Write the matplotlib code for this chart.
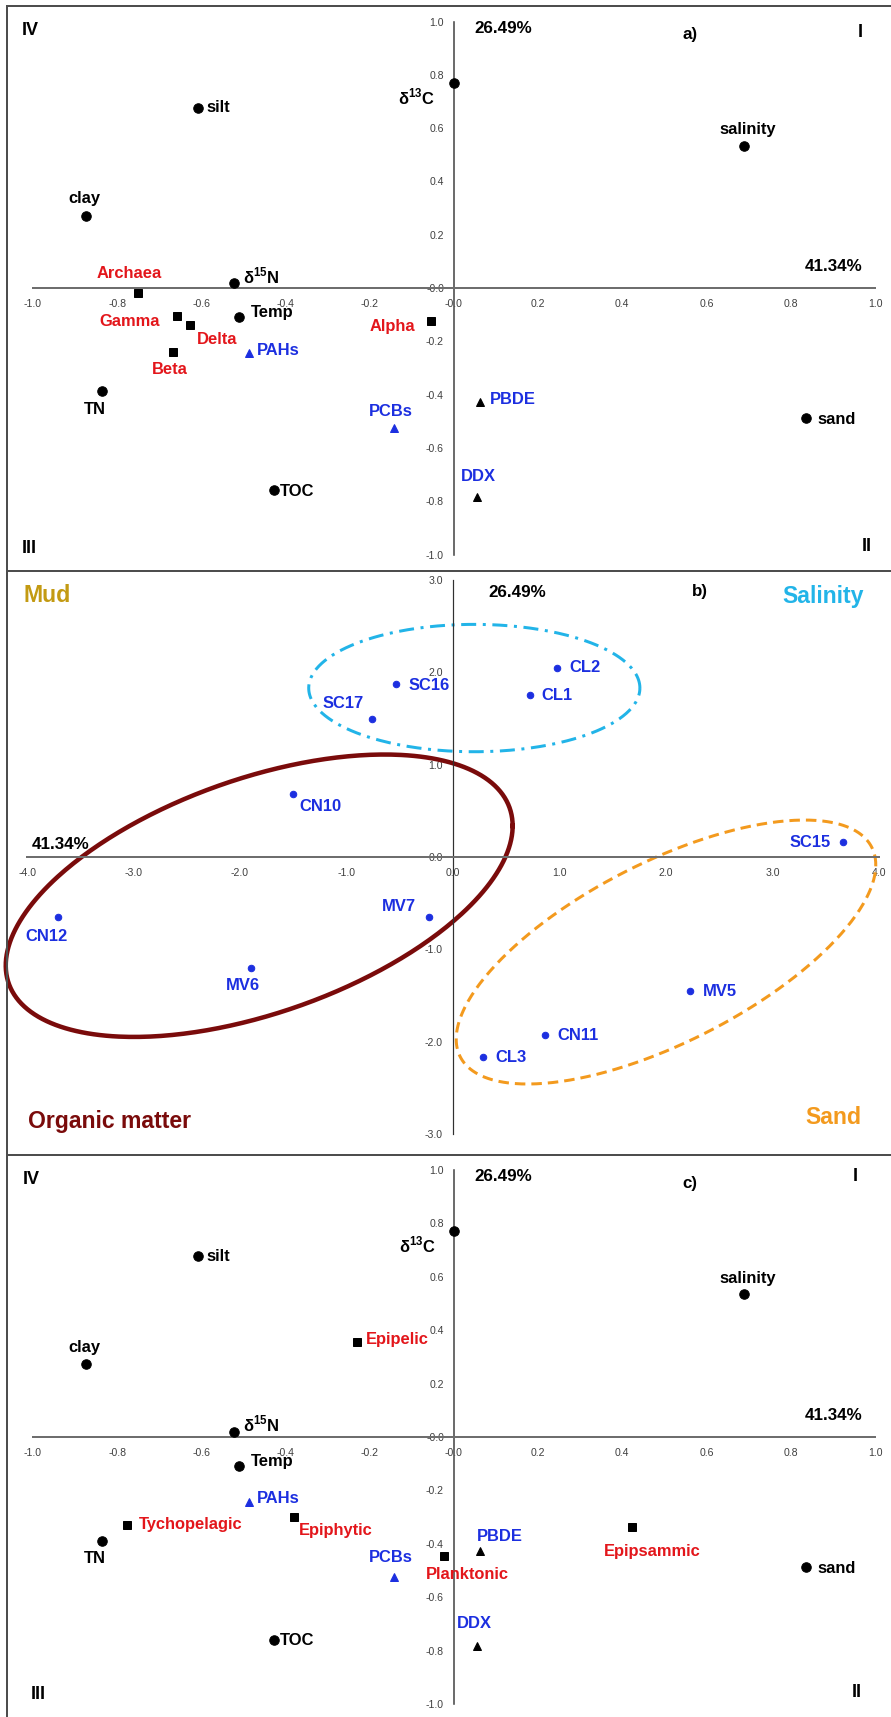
import numpy as np
import matplotlib
matplotlib.use("Agg")
import matplotlib.pyplot as plt
from matplotlib.lines import Line2D
from matplotlib.ticker import FormatStrFormatter

plt.rcParams["font.family"] = ["Liberation Sans", "DejaVu Sans"]
plt.rcParams["axes.unicode_minus"] = False

# ---- data: loadings (panels a, c) ----
env_labels = [r"δ$^{\mathregular{13}}$C", "silt", "salinity", "clay", r"δ$^{\mathregular{15}}$N",
              "Temp", "TN", "TOC", "sand"]
env_x = [0.0, -0.608, 0.688, -0.874, -0.523, -0.511, -0.835, -0.428, 0.835]
env_y = [0.77, 0.677, 0.534, 0.272, 0.02, -0.107, -0.388, -0.759, -0.487]

contam_labels = ["PAHs", "PCBs", "PBDE", "DDX"]
contam_x = [-0.487, -0.142, 0.061, 0.054]
contam_y = [-0.244, -0.525, -0.429, -0.784]

bact_labels = ["Archaea", "Gamma", "Delta", "Beta", "Alpha"]
bact_x = [-0.751, -0.657, -0.626, -0.666, -0.054]
bact_y = [-0.018, -0.104, -0.14, -0.239, -0.124]

diatom_labels = ["Epipelic", "Tychopelagic", "Epiphytic", "Planktonic", "Epipsammic"]
diatom_x = [-0.229, -0.777, -0.379, -0.023, 0.422]
diatom_y = [0.356, -0.33, -0.301, -0.445, -0.339]

# ---- data: site scores (panel b) ----
site_labels = ["CL2", "SC16", "CL1", "SC17", "CN10", "SC15",
               "CN12", "MV7", "MV6", "MV5", "CN11", "CL3"]
site_x = [0.98, -0.535, 0.72, -0.765, -1.5, 3.66, -3.706, -0.23, -1.9, 2.23, 0.866, 0.283]
site_y = [2.05, 1.87, 1.76, 1.5, 0.685, 0.16, -0.65, -0.65, -1.2, -1.45, -1.925, -2.165]

pc1_label = "41.34%"
pc2_label = "26.49%"

RED = "#e3161b"
BLUE = "#1c2fe0"
GREY = "#3f3f3f"

# label offsets (dx, dy in px, ha); figure is drawn at 72 dpi so pt == px
env_off_a = [(-37, -14, "center"), (9, 0, "left"), (4, 16, "center"), (-2, 17, "center"),
             (9, 7, "left"), (12, 4, "left"), (-7, -18, "center"), (6, -1, "left"), (12, -2, "left")]
env_off_c = env_off_a.copy()
env_off_c[0] = (-36, -14, "center")
contam_off_a = [(8, 3, "left"), (-3, 16, "center"), (10, 3, "left"), (2, 20, "center")]
contam_off_c = [(8, 4, "left"), (-3, 20, "center"), (20, 15, "center"), (-2, 23, "center")]
bact_off = [(-8, 19, "center"), (-17, -6, "right"), (27, -14, "center"), (-4, -18, "center"),
            (-16, -5, "right")]
diatom_off = [(8, 2, "left"), (12, 1, "left"), (5, -13, "left"), (23, -19, "center"),
              (21, -24, "center")]
site_off = [(12, 0, "left"), (12, -1, "left"), (12, -1, "left"), (-28, 15, "center"),
            (27, -13, "center"), (-12, 0, "right"), (-12, -20, "center"), (-30, 10, "center"),
            (-8, -18, "center"), (12, -1, "left"), (12, -1, "left"), (12, -1, "left")]

# quadrant label anchors (x, y, ha) for IV, I, III, II
quad_a = [(-1.027, 0.968, "left"), (0.97, 0.96, "right"), (-1.027, -0.979, "left"), (0.993, -0.97, "right")]
quad_c = [(-1.025, 0.966, "left"), (0.96, 0.975, "right"), (-1.006, -0.966, "left"), (0.968, -0.959, "right")]

W, H = 891, 1717
fig = plt.figure(figsize=(W / 72, H / 72), dpi=72)


def panel_axes(top, bottom, xlim, ylim):
    ax = fig.add_axes([0, 1 - bottom / H, 1, (bottom - top) / H])
    ax.set_xlim(xlim)
    ax.set_ylim(ylim)
    ax.patch.set_alpha(0)
    return ax


def style_axes(ax, ticks_x, ticks_y):
    for s in ("top", "right"):
        ax.spines[s].set_visible(False)
    ax.spines["left"].set_position(("data", 0))
    ax.spines["bottom"].set_position(("data", 0))
    ax.spines["left"].set_bounds(ticks_y[0], ticks_y[-1])
    ax.spines["bottom"].set_bounds(ticks_x[0], ticks_x[-1])
    ax.spines["bottom"].set_color("#6e6e6e")
    ax.spines["bottom"].set_linewidth(2)
    ax.spines["left"].set_color("#4a4a4a")
    ax.spines["left"].set_linewidth(1.6)
    ax.set_xticks(ticks_x)
    ax.set_yticks(ticks_y)
    ax.xaxis.set_major_formatter(FormatStrFormatter("%.1f"))
    ax.yaxis.set_major_formatter(FormatStrFormatter("%.1f"))
    ax.tick_params(length=0, labelsize=10.5, labelcolor=GREY)
    ax.tick_params(axis="x", pad=11)
    ax.tick_params(axis="y", pad=10)


def label_points(ax, labels, xs, ys, offsets, color, size=16.5):
    for t, x, y, (dx, dy, ha) in zip(labels, xs, ys, offsets):
        ax.annotate(t, (x, y), xytext=(dx, dy), textcoords="offset points",
                    ha=ha, va="center", color=color, fontsize=size, fontweight="bold")


def bold(ax, x, y, s, color="black", size=17, ha="center"):
    ax.text(x, y, s, ha=ha, va="center", color=color, fontsize=size, fontweight="bold")


def loadings_panel(ax, tag, env_off, contam_off, quad):
    style_axes(ax, np.round(np.arange(-1, 1.01, 0.2), 1), np.round(np.arange(-1, 1.01, 0.2), 1))
    ax.plot(env_x, env_y, "o", color="black", ms=9.5, zorder=4)
    label_points(ax, env_labels, env_x, env_y, env_off, "black")
    tri_col = [BLUE, BLUE, "black", "black"]
    for x, y, c in zip(contam_x, contam_y, tri_col):
        ax.plot(x, y, "^", color=c, ms=8.5, zorder=4)
    label_points(ax, contam_labels, contam_x, contam_y, contam_off, BLUE)
    for (qx, qy, ha), s in zip(quad, ["IV", "I", "III", "II"]):
        bold(ax, qx, qy, s, size=18, ha=ha)
    bold(ax, 0.116, 0.975, pc2_label)
    bold(ax, 0.97, 0.082, pc1_label, ha="right")
    bold(ax, 0.56, 0.95, tag)


# ---- panel a ----
ax_a = panel_axes(0, 570, (-1.078, 1.038), (-1.058, 1.081))
loadings_panel(ax_a, "a)", env_off_a, contam_off_a, quad_a)
ax_a.plot(bact_x, bact_y, "s", color="black", ms=8.5, zorder=4)
label_points(ax_a, bact_labels, bact_x, bact_y, bact_off, RED)

# ---- panel b ----
ax_b = panel_axes(570, 1155, (-4.254, 4.113), (-3.229, 3.109))
style_axes(ax_b, np.arange(-4, 4.01, 1.0), np.arange(-3, 3.01, 1.0))
ax_b.spines["left"].set_color("#303030")
ax_b.spines["left"].set_linewidth(1.2)
t = np.linspace(0, 2 * np.pi, 400)


def ellipse(cx, cy, ax_, ay_, by_):
    return cx + ax_ * np.cos(t), cy + ay_ * np.cos(t) + by_ * np.sin(t)


ex, ey = ellipse(-1.82, -0.42, 2.38, 0.756, 1.33)
ax_b.plot(ex, ey, color="#7a0b0b", lw=4.5, clip_on=False, zorder=2)
ex, ey = ellipse(2.0, -1.03, 1.97, 0.944, 1.074)
ax_b.plot(ex, ey, color="#f39a1e", lw=3, ls=(0, (3.5, 2)), clip_on=False, zorder=2)
ex, ey = ellipse(0.2, 1.83, 1.555, 0.0, 0.69)
ax_b.plot(ex, ey, color="#22b4e8", lw=3, ls=(0, (5, 2.2, 1, 2.2)), zorder=2)

ax_b.plot(site_x, site_y, "o", color=BLUE, ms=6.5, zorder=4)
label_points(ax_b, site_labels, site_x, site_y, site_off, BLUE)
bold(ax_b, -4.03, 2.83, "Mud", color="#c39a12", size=23, ha="left")
bold(ax_b, 3.86, 2.82, "Salinity", color="#22b4e8", size=23, ha="right")
bold(ax_b, -3.99, -2.87, "Organic matter", color="#7a0b0b", size=23, ha="left")
bold(ax_b, 3.83, -2.82, "Sand", color="#f39a1e", size=23, ha="right")
bold(ax_b, 0.6, 2.87, pc2_label)
bold(ax_b, 2.32, 2.88, "b)")
bold(ax_b, -3.96, 0.13, pc1_label, ha="left")

# ---- panel c ----
ax_c = panel_axes(1155, 1717, (-1.078, 1.038), (-1.049, 1.056))
loadings_panel(ax_c, "c)", env_off_c, contam_off_c, quad_c)
ax_c.plot(diatom_x, diatom_y, "s", color="black", ms=8.5, zorder=4)
label_points(ax_c, diatom_labels, diatom_x, diatom_y, diatom_off, RED)

# panel frames
frame = dict(color="#4d4d4d", lw=2, transform=fig.transFigure)
fig.add_artist(Line2D([7 / W, 7 / W], [1 - 6 / H, 0], **frame))
for yy in (6, 571, 1155):
    fig.add_artist(Line2D([7 / W, 1], [1 - yy / H, 1 - yy / H], **frame))

fig.savefig("out.png", dpi=72)
